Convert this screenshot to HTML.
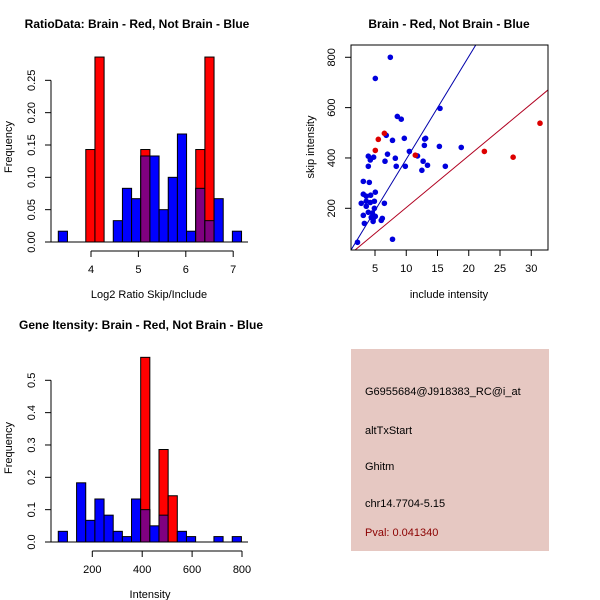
<!DOCTYPE html>
<html><head><meta charset="utf-8"><style>
body{margin:0;background:#fff}
svg{display:block;font-family:"Liberation Sans",sans-serif}
</style></head><body>
<svg id="c" width="600" height="600" viewBox="0 0 600 600">
<rect width="600" height="600" fill="#fff"/>
<rect x="351" y="349" width="198" height="202" fill="#e6c8c2"/>
<g font-size="11" fill="#000">
<text x="365" y="395">G6955684@J918383_RC@i_at</text>
<text x="365" y="434">altTxStart</text>
<text x="365" y="470">Ghitm</text>
<text x="365" y="507">chr14.7704-5.15</text>
<text x="365" y="536" fill="#8b0000">Pval: 0.041340</text>
</g>
</svg>
<script>
// Ratio histogram data
const ratioBinStart = 3.31, ratioBinWidth = 0.1933;
const ratioBlue = [0.0167,0,0,0,0,0,0.033,0.083,0.067,0.133,0.133,0.05,0.1,0.167,0.0167,0.083,0.033,0.067,0,0.0167];
const ratioRed  = [0,0,0,0.143,0.286,0,0,0,0,0.143,0,0,0,0,0,0.143,0.286,0,0,0];
const ratioXTicks = [4,5,6,7];
const ratioYTicks = ["0.00","0.05","0.10","0.15","0.20","0.25"];
// Intensity histogram data
const intBinStart = 63.6, intBinWidth = 36.7;
const intBlue = [0.033,0,0.183,0.067,0.133,0.083,0.033,0.0167,0.133,0.1,0.05,0.083,0,0.033,0.0167,0,0,0.0167,0,0.0167];
const intRed  = [0,0,0,0,0,0,0,0,0,0.571,0,0.286,0.143,0,0,0,0,0,0,0];
const intXTicks = [200,400,600,800];
const intYTicks = ["0.0","0.1","0.2","0.3","0.4","0.5"];
// Scatter data
const blueX = [7.45,5.05,15.4,8.57,9.2,6.8,7.8,9.69,12.95,13.1,12.9,15.3,18.8,10.5,7.0,11.8,3.93,4.78,4.25,8.25,6.6,12.7,3.93,8.4,9.85,13.4,16.25,12.5,3.13,4.09,5.05,3.13,3.6,4.3,3.6,4.25,4.9,2.8,6.5,3.6,4.9,3.93,3.13,4.57,5.05,4.4,4.7,6.17,6.0,4.7,3.3,7.8,2.2];
const blueY = [800,716,597,565,554,490,470,478,475,478,450,446,442,426,415,408,407,403,392,399,387,387,367,367,367,371,367,351,307,303,264,256,248,252,228,223,228,220,220,208,200,184,172,181,168,164,156,160,152,148,140,77,65];
const redX = [6.5,5.53,5.05,11.45,22.5,27.1,31.4];
const redY = [498,474,430,411,426,403,538];
const scatterXTicks = [5,10,15,20,25,30];
const scatterYTicks = [200,400,600,800];
const blueLine = [40.8,-13], redLine = [20.6,-3];

const svg = document.getElementById('c');
const NS = 'http://www.w3.org/2000/svg';
function mk(tag, attrs, parent){const e=document.createElementNS(NS,tag);for(const k in attrs)e.setAttribute(k,attrs[k]);(parent||svg).appendChild(e);return e;}
function txt(x,y,s,size,extra){const t=mk('text',Object.assign({x:x,y:y,'font-size':size,'text-anchor':'middle'},extra||{}));t.textContent=s;return t;}

function hist(opts){
  const g=mk('g',{});
  
  
  const sx=v=>opts.x0px+(v-opts.x0v)*opts.pxPerX;
  const sy=v=>opts.y0px-v*opts.pxPerY;
  const bl=mk('line',{x1:opts.blx1,x2:opts.blx2,y1:opts.y0px,y2:opts.y0px,stroke:'#000'},g);
  
  
  for(let i=0;i<opts.blue.length;i++){
    const a=sx(opts.start+i*opts.w), b=sx(opts.start+(i+1)*opts.w);
    const bv=opts.blue[i], rv=opts.red[i];
    if(bv>0){const r=mk('rect',{x:a,y:sy(bv),width:b-a,height:sy(0)-sy(bv),fill:'#0000ff',stroke:'#000','stroke-width':1},g);
      
      }
    if(rv>0){const r=mk('rect',{x:a,y:sy(rv),width:b-a,height:sy(0)-sy(rv),fill:'#ff0000',stroke:'#000','stroke-width':1},g);
      
      }
    if(bv>0&&rv>0){const m=Math.min(bv,rv);const r=mk('rect',{x:a,y:sy(m),width:b-a,height:sy(0)-sy(m),fill:'#800080',stroke:'#000','stroke-width':1},g);
      
      }
  }
  const xt=opts.xticks;
  mk('line',{x1:sx(xt[0]),x2:sx(xt[xt.length-1]),y1:opts.axY,y2:opts.axY,stroke:'#000'},g);
  xt.forEach(v=>{mk('line',{x1:sx(v),x2:sx(v),y1:opts.axY,y2:opts.axY+6,stroke:'#000'},g);
    const t=txt(sx(v),opts.axY+22,String(v),11,{});g.appendChild(t);
    
    });
  const yt=opts.yticks;
  mk('line',{x1:opts.yAxX,x2:opts.yAxX,y1:sy(+yt[0]),y2:sy(+yt[yt.length-1]),stroke:'#000'},g);
  yt.forEach(s=>{const y=sy(+s);mk('line',{x1:opts.yAxX,x2:opts.yAxX-6,y1:y,y2:y,stroke:'#000'},g);
    const t=txt(opts.yAxX-16,y,s,11,{transform:`rotate(-90 ${opts.yAxX-16} ${y})`});g.appendChild(t);
    
    });
}

hist({name:'ratio-histogram',blue:ratioBlue,red:ratioRed,start:ratioBinStart,w:ratioBinWidth,
  x0v:4,x0px:91,pxPerX:47.4,y0px:242,pxPerY:646.7,blx1:49,blx2:248,xticks:ratioXTicks,yticks:ratioYTicks,axY:251,yAxX:51});
hist({name:'intensity-histogram',blue:intBlue,red:intRed,start:intBinStart,w:intBinWidth,
  x0v:200,x0px:92.3,pxPerX:0.2495,y0px:542,pxPerY:323.4,blx1:49,blx2:248,xticks:intXTicks,yticks:intYTicks,axY:551,yAxX:51});

(function(){
  const g=mk('g',{});
  
  
  const sx=v=>375+(v-5)*6.25, sy=v=>208.3-(v-200)*0.2517;
  const L=351,R=548,T=45,B=250;
  const cp=mk('clipPath',{id:'sc'},g);mk('rect',{x:L,y:T,width:R-L,height:B-T},cp);
  const lines=mk('g',{'clip-path':'url(#sc)'},g);
  const xa=0,xb=40;
  const bl=mk('line',{x1:sx(xa),y1:sy(blueLine[0]*xa+blueLine[1]),x2:sx(xb),y2:sy(blueLine[0]*xb+blueLine[1]),stroke:'#0000aa'},lines);
  
  
  const rl=mk('line',{x1:sx(xa),y1:sy(redLine[0]*xa+redLine[1]),x2:sx(xb),y2:sy(redLine[0]*xb+redLine[1]),stroke:'#b00020'},lines);
  
  
  blueX.forEach((x,i)=>{const c=mk('circle',{cx:sx(x),cy:sy(blueY[i]),r:2.8,fill:'#0000dd'},g);
    
    });
  redX.forEach((x,i)=>{const c=mk('circle',{cx:sx(x),cy:sy(redY[i]),r:2.8,fill:'#dd0000'},g);
    
    });
  const box=mk('rect',{x:L,y:T,width:R-L,height:B-T,fill:'none',stroke:'#000'},g);
  
  
  scatterXTicks.forEach(v=>{mk('line',{x1:sx(v),x2:sx(v),y1:B,y2:B+6,stroke:'#000'},g);
    const t=txt(sx(v),272,String(v),11);g.appendChild(t);
    
    });
  scatterYTicks.forEach(v=>{const y=sy(v);mk('line',{x1:L,x2:L-6,y1:y,y2:y,stroke:'#000'},g);
    const t=txt(335,y,String(v),11,{transform:`rotate(-90 335 ${y})`});g.appendChild(t);
    
    });
})();

function lab(x,y,s,size,name,extra){const t=txt(x,y,s,size,extra);
  
  }
lab(137,28,'RatioData: Brain - Red, Not Brain - Blue',12,'ratio-title',{'font-weight':'bold'});
lab(449,28,'Brain - Red, Not Brain - Blue',12,'scatter-title',{'font-weight':'bold'});
lab(141,329,'Gene Itensity: Brain - Red, Not Brain - Blue',12,'intensity-title',{'font-weight':'bold'});
lab(149,298,'Log2 Ratio Skip/Include',11,'ratio-x-title');
lab(449,298,'include intensity',11,'scatter-x-title');
lab(150,598,'Intensity',11,'intensity-x-title');
lab(12,147,'Frequency',11,'ratio-y-title',{transform:'rotate(-90 12 147)'});
lab(314,147,'skip intensity',11,'scatter-y-title',{transform:'rotate(-90 314 147)'});
lab(12,448,'Frequency',11,'intensity-y-title',{transform:'rotate(-90 12 448)'});
</script>
</body></html>
